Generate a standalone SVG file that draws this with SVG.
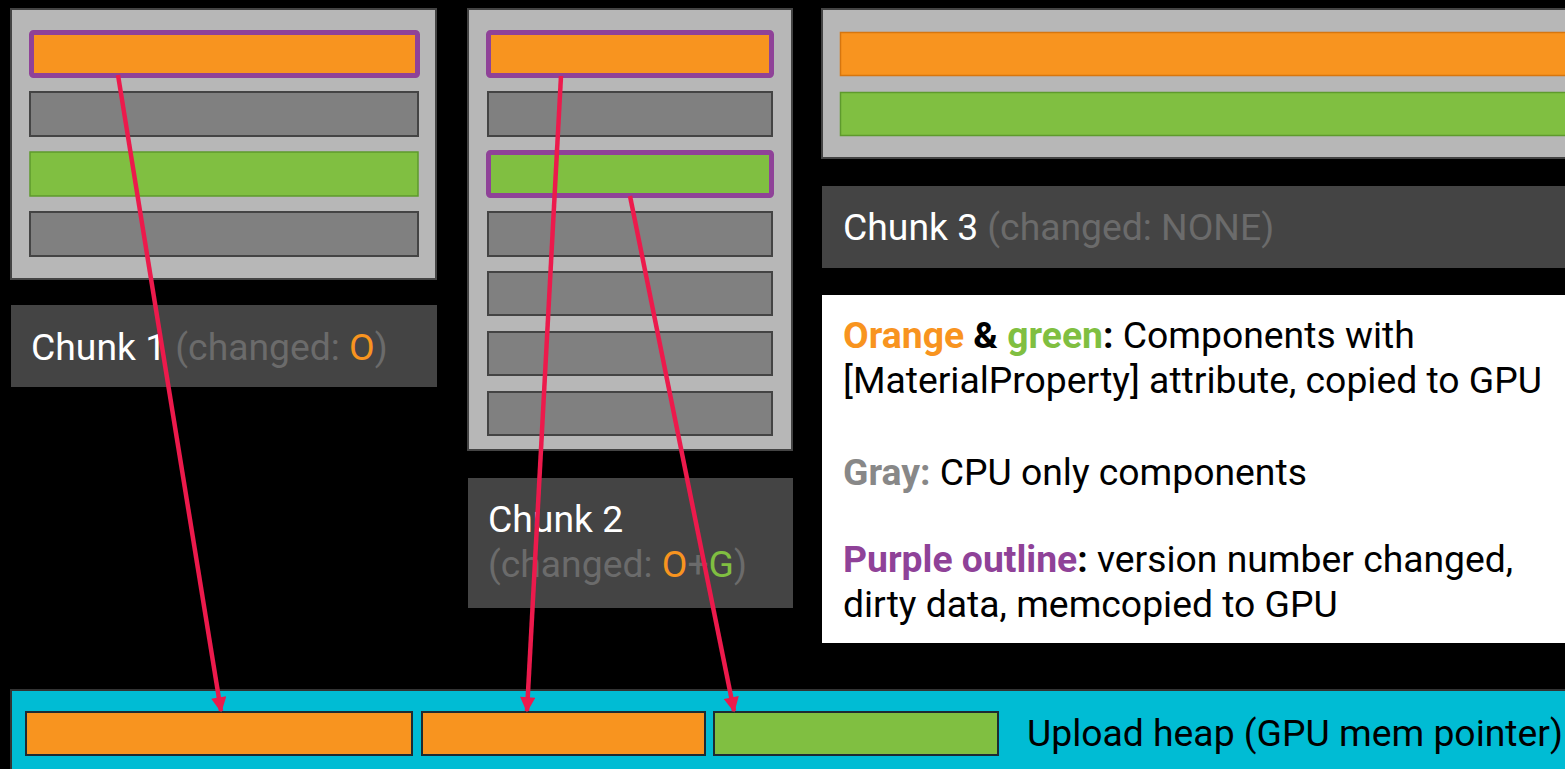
<svg xmlns="http://www.w3.org/2000/svg" width="1565" height="769" viewBox="0 0 1565 769">
<defs>
<style>
.panel{fill:#b7b7b7;stroke:#444;stroke-width:2}
.gray{fill:#808080;stroke:#444;stroke-width:2}
.orange{fill:#f8941f;stroke:#d6760f;stroke-width:1.5}
.green{fill:#80bf41;stroke:#5e9a2d;stroke-width:1.5}
.dirtyO{fill:#f8941f;stroke:#8f4298;stroke-width:5}
.dirtyG{fill:#80bf41;stroke:#8f4298;stroke-width:5}
.label{fill:#444}
.t{font-family:Roboto,"Liberation Sans",sans-serif;font-size:37.3px}
.w{fill:#fff}
.dim{fill:#6b6b6b}
.o{fill:#f8941f}
.g{fill:#80bf41}
.heapbar{stroke:#1d2b33;stroke-width:2}
.arrow{stroke:#ec1a4c;stroke-width:4.5;fill:none;marker-end:url(#ah)}
</style>
<marker id="ah" viewBox="0 0 10 10" refX="9" refY="5" markerWidth="3.8" markerHeight="3.4" orient="auto" markerUnits="strokeWidth">
<path d="M0,0 L10,5 L0,10 z" fill="#ec1a4c"/>
</marker>
</defs>
<rect x="0" y="0" width="1565" height="769" fill="#000"/>

<g id="chunk1">
<rect class="panel" x="11" y="9" width="425" height="270"/>
<rect class="dirtyO" x="31.5" y="32.5" width="386" height="43" rx="2"/>
<rect class="gray" x="30" y="92" width="388" height="44"/>
<rect class="green" x="30" y="152" width="388" height="44"/>
<rect class="gray" x="30" y="212" width="388" height="44"/>
</g>
<g id="chunk1-label">
<rect class="label" x="11" y="305" width="426" height="82"/>
<text class="t w" x="31" y="360">Chunk 1 <tspan class="dim">(changed: </tspan><tspan class="o">O</tspan><tspan class="dim">)</tspan></text>
</g>

<g id="chunk2">
<rect class="panel" x="468" y="9" width="324" height="441"/>
<rect class="dirtyO" x="488.5" y="32.5" width="283" height="43" rx="2"/>
<rect class="gray" x="488" y="92" width="284" height="44"/>
<rect class="dirtyG" x="488.5" y="152.5" width="283" height="43" rx="2"/>
<rect class="gray" x="488" y="212" width="284" height="44"/>
<rect class="gray" x="488" y="272" width="284" height="43"/>
<rect class="gray" x="488" y="332" width="284" height="43"/>
<rect class="gray" x="488" y="392" width="284" height="43"/>
</g>
<g id="chunk2-label">
<rect class="label" x="468" y="478" width="325" height="130"/>
<text class="t w" x="488" y="532">Chunk 2</text>
<text class="t dim" x="488" y="577">(changed: <tspan class="o">O</tspan>+<tspan class="g">G</tspan>)</text>
</g>

<g id="chunk3">
<rect class="panel" x="822" y="9" width="760" height="149"/>
<rect class="orange" x="840.5" y="32.5" width="740" height="43"/>
<rect class="green" x="840.5" y="92.5" width="740" height="43"/>
</g>
<g id="chunk3-label">
<rect class="label" x="822" y="186" width="760" height="82"/>
<text class="t w" x="843" y="240">Chunk 3 <tspan class="dim">(changed: NONE)</tspan></text>
</g>

<g id="legend">
<rect x="822" y="295" width="760" height="348" fill="#fff"/>
<text class="t" x="843" y="348" fill="#000"><tspan font-weight="bold" class="o">Orange</tspan> <tspan font-weight="bold">&amp;</tspan> <tspan font-weight="bold" class="g">green</tspan><tspan font-weight="bold">:</tspan> Components with</text>
<text class="t" x="843" y="393" fill="#000">[MaterialProperty] attribute, copied to GPU</text>
<text class="t" x="843" y="485" fill="#000"><tspan font-weight="bold" fill="#888">Gray:</tspan> CPU only components</text>
<text class="t" x="843" y="572" fill="#000"><tspan font-weight="bold" fill="#8f4298">Purple outline</tspan><tspan font-weight="bold">:</tspan> version number changed,</text>
<text class="t" x="843" y="617" fill="#000">dirty data, memcopied to GPU</text>
</g>

<g id="upload-heap">
<rect x="11" y="690" width="1570" height="90" fill="#00bcd4" stroke="#333" stroke-width="2"/>
<rect class="heapbar" x="26" y="712" width="386" height="43" fill="#f8941f"/>
<rect class="heapbar" x="422" y="712" width="283" height="43" fill="#f8941f"/>
<rect class="heapbar" x="714" y="712" width="284" height="43" fill="#80bf41"/>
<text class="t" x="1027" y="746" fill="#000">Upload heap (GPU mem pointer)</text>
</g>

<g id="connectors">
<line class="arrow" x1="118" y1="75" x2="221" y2="711"/>
<line class="arrow" x1="561" y1="76" x2="527" y2="711"/>
<line class="arrow" x1="630" y1="196" x2="734" y2="711"/>
</g>
</svg>
